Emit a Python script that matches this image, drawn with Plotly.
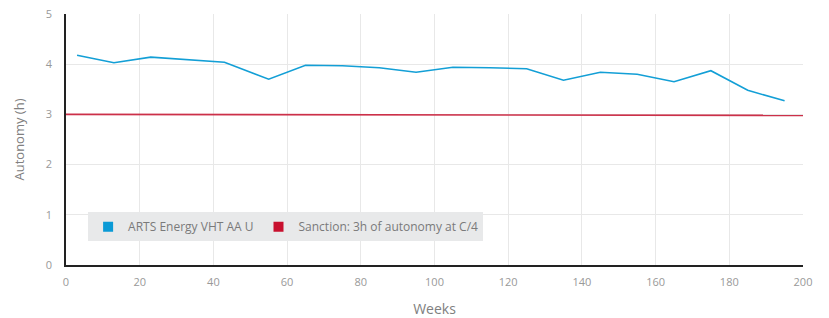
import plotly.graph_objects as go

weeks = [3, 13, 23, 33, 43, 55, 65, 75, 85, 95, 105, 115, 125, 135, 145, 155, 165, 175, 185, 195]
autonomy = [4.18, 4.03, 4.14, 4.09, 4.04, 3.70, 3.98, 3.97, 3.93, 3.84, 3.94, 3.93, 3.91, 3.68, 3.84, 3.80, 3.65, 3.87, 3.48, 3.27]
sanction_weeks = [0, 200]
sanction_values = [3.0, 2.98]

series_name = "ARTS Energy VHT AA U"
sanction_name = "Sanction: 3h of autonomy at C/4"
blue = "#139fd6"
red = "#c8102e"

fig = go.Figure()
fig.add_trace(go.Scatter(x=sanction_weeks, y=sanction_values, mode="lines",
                         line=dict(color="#cc3049", width=1.6), showlegend=False, hoverinfo="skip"))
fig.add_trace(go.Scatter(x=weeks, y=autonomy, mode="lines",
                         line=dict(color=blue, width=1.6), showlegend=False))
fig.add_trace(go.Scatter(x=[None], y=[None], mode="markers", name=series_name,
                         marker=dict(symbol="square", size=10, color="#0a9ad6")))
fig.add_trace(go.Scatter(x=[None], y=[None], mode="markers", name=sanction_name,
                         marker=dict(symbol="square", size=10, color=red)))

fig.update_layout(
    width=829, height=318,
    margin=dict(l=66, r=26, t=14, b=53),
    paper_bgcolor="white", plot_bgcolor="white",
    font=dict(family="Open Sans", color="#888888", size=11),
    legend=dict(orientation="h", x=0.03, y=0.21, xanchor="left", yanchor="top",
                bgcolor="#e8e9ea", font=dict(size=12, color="#7a7a7a"),
                itemwidth=30, tracegroupgap=0),
    xaxis=dict(range=[0, 200], dtick=20, showgrid=True, gridcolor="#e8e8e8",
               showline=True, linecolor="#222222", linewidth=1.5, zeroline=False,
               automargin=False,
               ticks="outside", ticklen=6, tickcolor="rgba(0,0,0,0)",
               title=dict(text="Weeks", font=dict(size=14, color="#808080"), standoff=20),
               tickfont=dict(size=11, color="#999999")),
    yaxis=dict(range=[0, 5], dtick=1, showgrid=True, gridcolor="#e8e8e8",
               showline=True, linecolor="#222222", linewidth=1.5, zeroline=False,
               automargin=False,
               ticks="outside", ticklen=10, tickcolor="rgba(0,0,0,0)",
               title=dict(text="Autonomy (h)", font=dict(size=13, color="#808080"), standoff=18),
               tickfont=dict(size=11, color="#999999")),
)

fig.write_html("out.html", config={"displayModeBar": False},
               post_script="document.body.style.margin='0';")
